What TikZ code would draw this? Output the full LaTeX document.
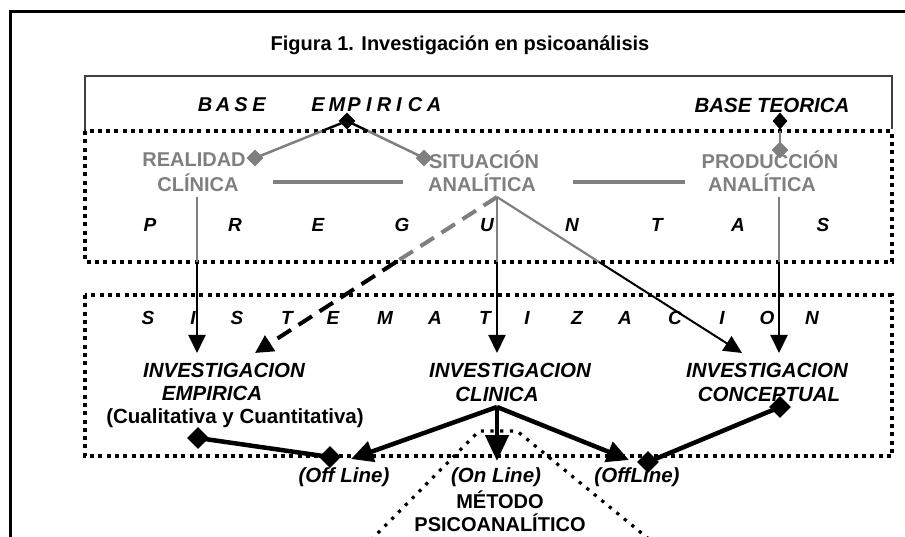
\documentclass[tikz,border=0pt]{standalone}
\usepackage{fontspec}
\setmainfont{Liberation Sans}
\usetikzlibrary{arrows.meta,shapes.geometric}
\definecolor{lg}{HTML}{7F7F7F}
\definecolor{frm}{HTML}{404040}
\begin{document}
\begin{tikzpicture}[x=1pt,y=-1pt,
  every node/.style={inner sep=0pt, font=\fontsize{20}{24}\selectfont\bfseries},
  glbl/.style={text=lg},
  ilbl/.style={font=\fontsize{20.5}{24}\selectfont\bfseries\itshape},
  letr/.style={font=\fontsize{19}{22}\selectfont\bfseries\itshape},
  bletr/.style={font=\fontsize{20}{22}\selectfont\bfseries\itshape},
  dotbox/.style={line width=3.5pt, dash pattern=on 4pt off 4.3pt},
  dottri/.style={line width=3.2pt, dash pattern=on 3.2pt off 6.5pt},
  gline/.style={draw=lg, line width=2.2pt},
  bline/.style={draw=black, line width=2pt},
  thin/.style={-{Triangle[length=18pt,width=17pt]}},
  thick/.style={draw=black, line width=4.5pt},
  thickarr/.style={thick, -{Triangle[length=22pt,width=21pt]}},
  bigarr/.style={thick, -{Triangle[length=26pt,width=23pt]}},
  dashg/.style={line width=4pt, dash pattern=on 16pt off 9pt},
  gbar/.style={draw=lg, line width=4pt},
  dia/.style={diamond, inner sep=0pt, minimum width=17pt, minimum height=17pt, fill=black},
  gdia/.style={dia, fill=lg},
  bdia/.style={dia, minimum width=22pt, minimum height=22pt}
]
\path[use as bounding box] (0,0) rectangle (905,537);
\begin{scope}
  \clip (0,0) rectangle (905,537);
  \draw[line width=3pt, black] (10,12) rectangle (940,580);
\end{scope}

% title
\node (title) at (460,45) {Figura 1. Investigación en psicoanálisis};

% boxes
\draw[line width=1.5pt, frm] (85,131) -- (85,76) -- (892,76) -- (892,129);
\draw[dotbox] (85,131) rectangle (892,262);
\draw[dotbox] (85,295) rectangle (892,456);

% base letters
\foreach \l/\x [count=\i] in {B/205,A/223,S/241,E/259,E/318,M/337,P/354,I/369,R/384,I/399,C/415,A/434}
  \node[bletr] (be\i) at (\x,105) {\l};
\node[ilbl] (bt) at (772,105) {BASE TEORICA};

% gray labels
\node[glbl] (real) at (194,160) {REALIDAD};
\node[glbl] (clin) at (198,183) {CLÍNICA};
\node[glbl] (sit) at (484,160) {SITUACIÓN};
\node[glbl] (ana1) at (482,183) {ANALÍTICA};
\node[glbl] (prod) at (770,160) {PRODUCCIÓN};
\node[glbl] (ana2) at (762,183) {ANALÍTICA};

% PREGUNTAS
\foreach \l/\x [count=\i] in {P/150,R/235,E/318,G/402,U/487,N/572,T/657,A/738,S/823}
  \node[letr] (pr\i) at (\x,225) {\l};
% SISTEMATIZACION
\foreach \l/\x [count=\i] in {S/148,I/193,S/237,T/287,E/333,M/385,A/435,T/485,I/527,Z/577,A/625,C/675,I/722,O/767,N/812}
  \node[letr] (si\i) at (\x,318) {\l};

% investigation labels
\node[ilbl] (ie1) at (224,370) {INVESTIGACION};
\node[ilbl] (ie2) at (212,393) {EMPIRICA};
\node (ie3) at (235,418) {\fontsize{20.5}{24}\selectfont(Cualitativa y Cuantitativa)};
\node[ilbl] (ic1) at (510,370) {INVESTIGACION};
\node[ilbl] (ic2) at (497,394) {CLINICA};
\node[ilbl] (ik1) at (767,370) {INVESTIGACION};
\node[ilbl] (ik2) at (769,394) {CONCEPTUAL};

\node[ilbl] (off1) at (344,477) {(Off Line)};
\node[ilbl] (onl) at (496,477) {(On Line)};
\node[ilbl] (off2) at (637,477) {(OffLine)};
\node (met) at (500,500) {MÉTODO};
\node (psi) at (500,523) {PSICOANALÍTICO};

% horizontal gray bars
\coordinate (b1a) at (273,182); \coordinate (b1b) at (403,182);
\coordinate (b2a) at (573,182); \coordinate (b2b) at (685,182);
\draw[gbar] (b1a) -- (b1b);
\draw[gbar] (b2a) -- (b2b);

% connector points
\coordinate (be) at (347,121);
\coordinate (bel) at (322,131); \coordinate (ber) at (368,131);
\coordinate (rd) at (255,158); \coordinate (sd) at (424,158);
\coordinate (btd) at (780,121); \coordinate (btm) at (780,131); \coordinate (pd) at (780,150);

\coordinate (rc) at (197,197); \coordinate (rcm) at (197,262); \coordinate (rct) at (197,353);
\coordinate (sa) at (497,197);
\coordinate (sam1) at (396,262); \coordinate (dt) at (255,353);
\coordinate (sam2) at (497,262); \coordinate (st) at (497,353);
\coordinate (sam3) at (599,262); \coordinate (ct) at (742,353);
\coordinate (pa) at (779,197); \coordinate (pam) at (779,262); \coordinate (pt) at (779,353);

\coordinate (cl) at (497,407);
\coordinate (dl1) at (198,438); \coordinate (dl2) at (330,457);
\coordinate (dr1) at (780,407); \coordinate (dr2) at (648,462);
\coordinate (olt) at (351,459); \coordinate (ont) at (497,461); \coordinate (oft) at (629,460);

\coordinate (t1) at (371,540); \coordinate (t2) at (479,431);
\coordinate (t3) at (517,431); \coordinate (t4) at (650,540);

% base lines
\draw[bline, line width=2.5pt] (be) -- (bel);
\draw[gline, line width=2.5pt] (bel) -- (rd);
\draw[bline, line width=2.5pt] (be) -- (ber);
\draw[gline, line width=2.5pt] (ber) -- (sd);
\draw[bline] (btd) -- (btm);
\draw[gline] (btm) -- (pd);

% vertical / diagonal arrows
\draw[gline] (rc) -- (rcm);
\draw[bline, thin] (rcm) -- (rct);
\draw[gline] (sa) -- (sam2);
\draw[bline, thin] (sam2) -- (st);
\draw[gline] (sa) -- (sam3);
\draw[bline, thin] (sam3) -- (ct);
\draw[gline] (pa) -- (pam);
\draw[bline, thin] (pam) -- (pt);
\draw[dashg, draw=lg] (sa) -- (sam1);
\draw[dashg, draw=black, -{Triangle[length=18pt,width=18pt]}] (sam1) -- (dt);

% dotted triangle
\draw[dottri] (t1) -- (t2) -- (t3) -- (t4);

% bottom thick lines
\draw[thick] (dl1) -- (dl2);
\draw[thick] (dr1) -- (dr2);
\draw[thickarr] (cl) -- (olt);
\draw[bigarr] (cl) -- (ont);
\draw[thickarr] (cl) -- (oft);

% diamonds
\node[dia] (dbe) at (be) {};
\node[gdia] (drd) at (rd) {};
\node[gdia] (dsd) at (sd) {};
\node[dia, minimum width=15pt, minimum height=17pt] (dbt) at (btd) {};
\node[gdia] (dpd) at (pd) {};
\node[bdia] (ddl1) at (dl1) {};
\node[bdia] (ddl2) at (dl2) {};
\node[bdia] (ddr1) at (dr1) {};
\node[bdia] (ddr2) at (dr2) {};
\end{tikzpicture}
\end{document}
